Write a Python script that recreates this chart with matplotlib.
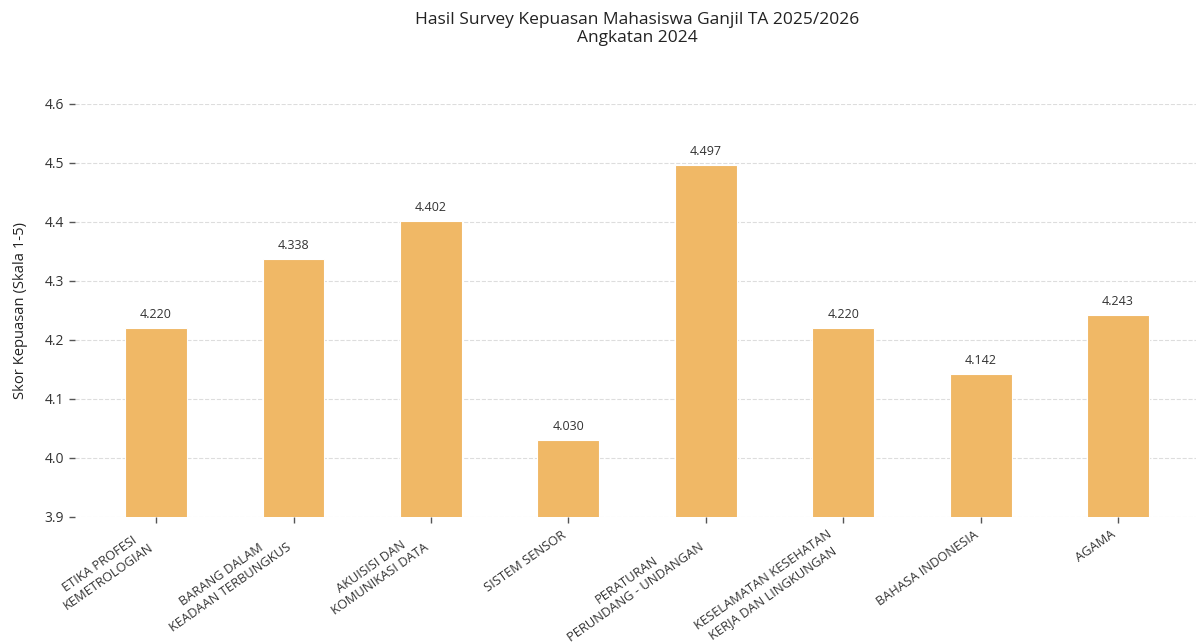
import matplotlib.pyplot as plt
import numpy as np

plt.rcParams['font.family'] = ['Open Sans', 'DejaVu Sans']

mata_kuliah = [
    'ETIKA PROFESI\nKEMETROLOGIAN',
    'BARANG DALAM\nKEADAAN TERBUNGKUS',
    'AKUISISI DAN\nKOMUNIKASI DATA',
    'SISTEM SENSOR',
    'PERATURAN\nPERUNDANG - UNDANGAN',
    'KESELAMATAN KESEHATAN\nKERJA DAN LINGKUNGAN',
    'BAHASA INDONESIA',
    'AGAMA',
]
skor = [4.220, 4.338, 4.402, 4.030, 4.497, 4.220, 4.142, 4.243]
y_ticks = [3.9, 4.0, 4.1, 4.2, 4.3, 4.4, 4.5, 4.6]

fig = plt.figure(figsize=(11.96, 6.43), dpi=100)
ax = fig.add_axes([75 / 1196, 126 / 643, 1121 / 1196, 413 / 643])

x = np.arange(len(mata_kuliah))
bars = ax.bar(x, skor, width=0.45, color='#F0B866', edgecolor='white', linewidth=0.8, zorder=3)

for b, v in zip(bars, skor):
    ax.annotate(f'{v:.3f}', (b.get_x() + b.get_width() / 2, v),
                xytext=(0, 5), textcoords='offset points',
                ha='center', va='bottom', fontsize=9, color='#333333')

ax.set_ylim(3.9, 4.6)
ax.set_xlim(-0.59, 7.567)
ax.set_yticks(y_ticks)
ax.set_yticklabels([f'{t:.1f}' for t in y_ticks], fontsize=10, color='#333333')
ax.set_xticks(x)
ax.set_xticklabels(mata_kuliah, rotation=35, ha='right',
                   fontsize=9.3, color='#333333', multialignment='center', linespacing=1.2)
ax.tick_params(axis='both', length=4, width=1, color='#555555', pad=4)

ax.grid(axis='y', linestyle='--', color='#dddddd', linewidth=0.8, zorder=0)
ax.set_axisbelow(True)
for s in ax.spines.values():
    s.set_visible(False)

ax.set_ylabel('Skor Kepuasan (Skala 1-5)', fontsize=10.6, color='#222222', labelpad=12)
fig.text(637 / 1196, 1 - 29 / 643, 'Hasil Survey Kepuasan Mahasiswa Ganjil TA 2025/2026\nAngkatan 2024',
         ha='center', va='center', fontsize=12.5, color='#222222', linespacing=1.15)

fig.savefig('out.png', dpi=100)
